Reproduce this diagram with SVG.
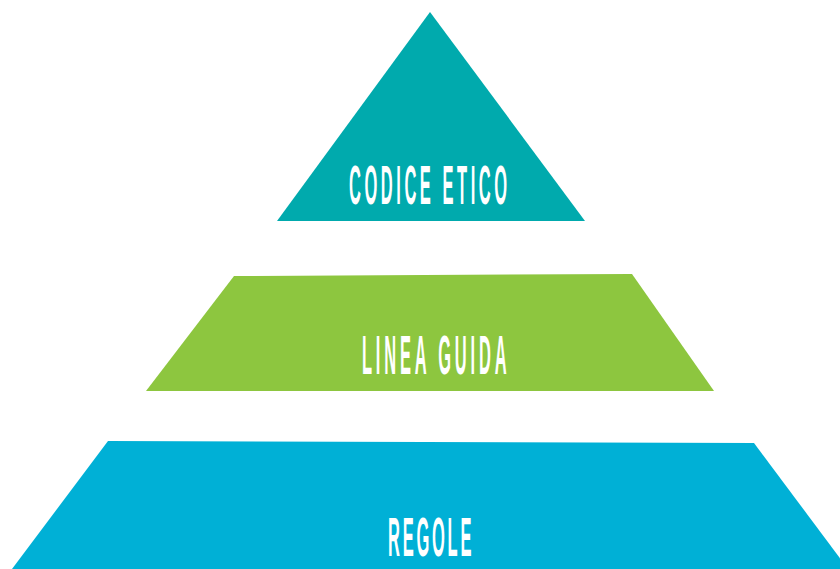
<svg xmlns="http://www.w3.org/2000/svg" width="840" height="569" viewBox="0 0 840 569">
<style>
.lbl{font-family:"Liberation Sans",Arial,sans-serif;font-weight:bold;fill:#ffffff;text-anchor:start}
</style>
<rect width="840" height="569" fill="#ffffff"/>
<g id="codice-etico">
<polygon points="430,12 585,221 277,221" fill="#00aaad"/>
<text class="lbl" transform="translate(349,204) scale(0.3,1)" x="0" y="0" font-size="55" textLength="527" lengthAdjust="spacing">CODICE ETICO</text>
</g>
<g id="linea-guida">
<polygon points="234,276 632,274 714,391 146,391" fill="#8dc63f"/>
<text class="lbl" transform="translate(362,374) scale(0.3,1)" x="0" y="0" font-size="55" textLength="482" lengthAdjust="spacing">LINEA GUIDA</text>
</g>
<g id="regole">
<polygon points="108,441 754,443 848,569 12,569" fill="#00b0d6"/>
<text class="lbl" transform="translate(388,556) scale(0.3,1)" x="0" y="0" font-size="55" textLength="278" lengthAdjust="spacing">REGOLE</text>
</g>
<g id="connectors"/>
</svg>
